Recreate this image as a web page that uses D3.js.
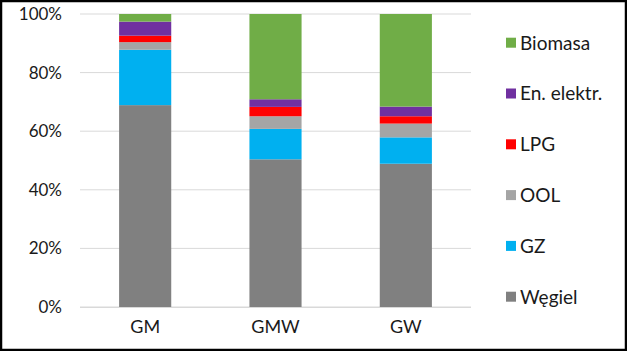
<!DOCTYPE html>
<html><head><meta charset="utf-8">
<script src="https://cdn.jsdelivr.net/npm/d3@7"></script>
<style>body{margin:0;background:#fff}svg{display:block}text{font-family:Lato,"Open Sans",sans-serif;fill:#1a1a1a}</style>
</head><body><div id="chart"></div>
<script>
const categories = ["GM", "GMW", "GW"];
const seriesNames = ["Węgiel", "GZ", "OOL", "LPG", "En. elektr.", "Biomasa"];
const wegiel   = [68.9, 50.4, 48.9];
const gz       = [18.9, 10.4, 9.0];
const ool      = [2.6, 4.3, 4.7];
const lpg      = [2.2, 3.2, 2.5];
const enElektr = [4.8, 2.6, 3.3];
const biomasa  = [2.6, 29.1, 31.6];
const yTicks = [0, 20, 40, 60, 80, 100];
const colors = ["#808080", "#00B0F0", "#A5A5A5", "#FF0000", "#7030A0", "#70AD47"];

const W = 627, H = 351;
const svg = d3.select("#chart").append("svg").attr("width", W).attr("height", H);
svg.append("rect").attr("x",1).attr("y",1).attr("width",W-2).attr("height",H-2)
  .attr("fill","#fff").attr("stroke","#000").attr("stroke-width",2.5);

const values = [wegiel, gz, ool, lpg, enElektr, biomasa];
const rows = categories.map((c, i) => {
  const r = {cat: c};
  seriesNames.forEach((s, j) => r[s] = values[j][i]);
  return r;
});
const stack = d3.stack().keys(seriesNames).offset(d3.stackOffsetExpand)(rows);

const x = d3.scaleBand().domain(categories).range([80, 471]).paddingInner(0.6).paddingOuter(0.3);
const y = d3.scaleLinear().domain([0, 1]).range([307, 14]);

// gridlines
svg.append("g").selectAll("line").data(yTicks).join("line")
  .attr("x1", 80).attr("x2", 471)
  .attr("y1", d => y(d/100)).attr("y2", d => y(d/100))
  .attr("stroke", "#D9D9D9").attr("stroke-width", 1);

// y axis labels
const yAxis = d3.axisLeft(y).tickValues(yTicks.map(d => d/100)).tickFormat(d3.format(".0%")).tickSize(0).tickPadding(0);
const gy = svg.append("g").attr("transform", "translate(62,0)").call(yAxis);
gy.select(".domain").remove();
gy.selectAll("text").style("font-size", "17px").attr("fill", "#1a1a1a");

// bars
svg.append("g").selectAll("g").data(stack).join("g")
  .attr("fill", (d, i) => colors[i])
  .selectAll("rect").data(d => d).join("rect")
  .attr("x", d => x(d.data.cat))
  .attr("width", x.bandwidth())
  .attr("y", d => y(d[1]))
  .attr("height", d => y(d[0]) - y(d[1]));

// x axis
const xAxis = d3.axisBottom(x).tickSize(0).tickPadding(0);
const gx = svg.append("g").attr("transform", "translate(0,307)").call(xAxis);
gx.select(".domain").attr("stroke", "#D9D9D9").attr("d", "M80,0.5H471");
gx.selectAll("text").style("font-size", "18px").attr("fill", "#1a1a1a").attr("dy", "1.45em");

// legend
const legendOrder = seriesNames.map((s, i) => ({name: s, color: colors[i]})).reverse();
const leg = svg.append("g").selectAll("g").data(legendOrder).join("g")
  .attr("transform", (d, i) => `translate(506,${42.7 + i*50.8})`);
leg.append("rect").attr("x", 0).attr("y", -5).attr("width", 10).attr("height", 10).attr("fill", d => d.color);
leg.append("text").attr("x", 14).attr("y", 0).attr("dy", "0.36em").style("font-size", "19px").text(d => d.name);
</script></body></html>
